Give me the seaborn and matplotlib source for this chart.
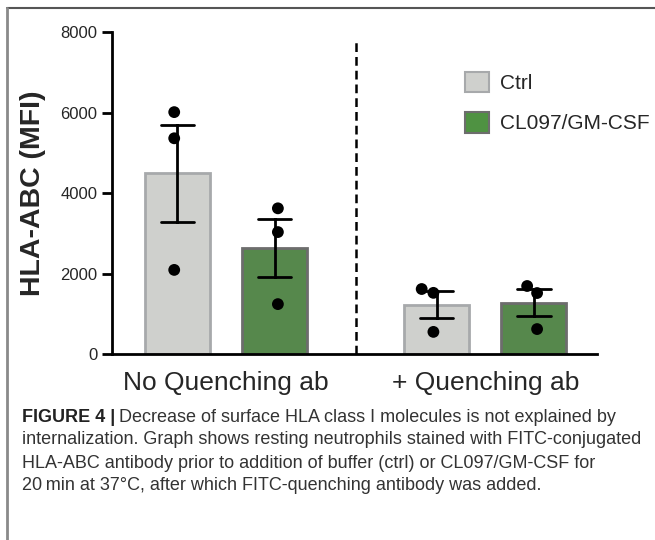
import pandas as pd
import seaborn as sns
import matplotlib.pyplot as plt
from matplotlib.lines import Line2D

sns.set_theme(style="ticks")
plt.rcParams['font.family'] = ['Liberation Sans', 'DejaVu Sans']

groups = ['No Quenching ab', '+ Quenching ab']
conditions = ['Ctrl', 'CL097/GM-CSF']

# individual donors (MFI)
ctrl_noq = [6010, 5360, 2090]
stim_noq = [3620, 3030, 1240]
ctrl_q = [1615, 1520, 550]
stim_q = [1690, 1515, 620]

rows = []
for grp, cond, vals in [(groups[0], conditions[0], ctrl_noq),
                        (groups[0], conditions[1], stim_noq),
                        (groups[1], conditions[0], ctrl_q),
                        (groups[1], conditions[1], stim_q)]:
    for v in vals:
        rows.append({'group': grp, 'condition': cond, 'MFI': v})
df = pd.DataFrame(rows)

palette = {'Ctrl': '#cfd0cd', 'CL097/GM-CSF': '#4f9242'}
edges = {'Ctrl': '#a7a9ab', 'CL097/GM-CSF': '#6d6d6d'}

fig = plt.figure(figsize=(6.55, 5.4), dpi=100)
ax = fig.add_axes([0.171, 0.3444, 0.74, 0.5963])

sns.barplot(data=df, x='group', y='MFI', hue='condition', order=groups,
            hue_order=conditions, palette=palette, errorbar='se',
            width=0.75, gap=0.33, capsize=0.26, err_kws={'color': 'black', 'linewidth': 2},
            ax=ax, zorder=1)
for patch, cond in zip(ax.patches[:4], ['Ctrl', 'Ctrl', 'CL097/GM-CSF', 'CL097/GM-CSF']):
    patch.set_edgecolor(edges[cond])
    patch.set_linewidth(2)

sns.swarmplot(data=df, x='group', y='MFI', hue='condition', order=groups,
              hue_order=conditions, dodge=True, palette={'Ctrl': 'black', 'CL097/GM-CSF': 'black'},
              size=8.5, ax=ax, legend=False, zorder=3)

ax.axvline(0.5, ymin=0, ymax=7750 / 8000, color='black', linestyle=(0, (3.5, 2)), linewidth=1.8)

ax.set_xlim(-0.44, 1.43)
ax.set_ylim(0, 8000)
ax.set_yticks([0, 2000, 4000, 6000, 8000])
ax.set_xlabel('')
ax.set_ylabel('HLA-ABC (MFI)', fontsize=20.5, fontweight='bold', labelpad=10)
ax.tick_params(axis='y', labelsize=12, width=2, length=7, color='black')
ax.tick_params(axis='x', labelsize=19, length=0, pad=12)
for s in ['left', 'bottom']:
    ax.spines[s].set_linewidth(2)
    ax.spines[s].set_color('black')
sns.despine(ax=ax)

handles = [plt.Rectangle((0, 0), 1, 1, facecolor=palette[c], edgecolor=edges[c], linewidth=1.5)
           for c in conditions]
ax.legend(handles, conditions, loc='upper left', bbox_to_anchor=(0.69, 0.935),
          frameon=False, fontsize=15, handlelength=1.15, handleheight=1.15,
          handletextpad=0.5, labelspacing=0.9)

# panel frame
fig.add_artist(Line2D([0.011, 1.0], [0.985, 0.985], color='#555555', linewidth=1.5))
fig.add_artist(Line2D([0.011, 0.011], [0.0, 0.985], color='#8a8a8a', linewidth=2))

caption = [
    "internalization. Graph shows resting neutrophils stained with FITC-conjugated",
    "HLA-ABC antibody prior to addition of buffer (ctrl) or CL097/GM-CSF for",
    "20\u2009min at 37\u00b0C, after which FITC-quenching antibody was added.",
]
cap_size = 13
t = fig.text(0.034, 1 - 417 / 540, "FIGURE 4 |", fontsize=cap_size, fontweight='bold',
             color='#222222', va='center')
fig.canvas.draw()
bb = t.get_window_extent().transformed(fig.transFigure.inverted())
fig.text(bb.x1 + 0.006, 1 - 417 / 540, "Decrease of surface HLA class I molecules is not explained by",
         fontsize=cap_size, color='#333333', va='center')
for i, line in enumerate(caption):
    fig.text(0.034, 1 - (440 + 23 * i) / 540, line, fontsize=cap_size, color='#333333', va='center')

fig.savefig('out.png', dpi=100)
